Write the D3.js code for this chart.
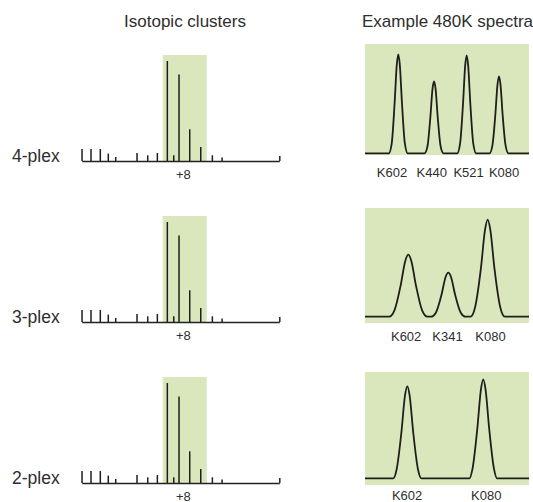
<!DOCTYPE html>
<html>
<head>
<meta charset="utf-8">
<script src="https://d3js.org/d3.v7.min.js"></script>
<style>
  body { margin: 0; background: #fff; }
  svg text { font-family: "Liberation Sans", Arial, Helvetica, sans-serif; fill: #2e2e2e; }
  .axis path, .axis line { stroke: #222; stroke-width: 1.5; }
</style>
</head>
<body>
<script>
// ---- data ----
var plexLabels = ["4-plex", "3-plex", "2-plex"];

// isotopic cluster (same pattern in every row): offset in Da, relative intensity
var clusterMz = [0.04, 1.13, 2.26, 3.23, 4.13, 6.72, 8.02, 9.19, 10.4, 11.18, 11.82, 13.12, 14.46, 15.87, 17.05];
var clusterInt = [12, 12, 12, 7.4, 4, 8, 5.7, 8, 100, 5.7, 86.4, 31.7, 14, 5.7, 3.4];
var heavyWindow = [9.84, 15.19];   // shaded region
var shiftLabelAt = 12.35;          // "+8"

// example 480K spectra: labels, label positions, traced profile points [x, intensity]
var specLabels = [
  ["K602", "K440", "K521", "K080"],
  ["K602", "K341", "K080"],
  ["K602", "K080"]
];
var specLabelX = [
  [16.5, 40.7, 63.2, 84.8],
  [25.1, 50.3, 76.5],
  [25.7, 73.9]
];
var spectrum4 = [[0,0],
  [14.5,0],[16.3,10],[18.05,50],[19.4,89],[20.3,99],[21.2,89],[22.55,50],[24.3,10],[26.1,0],
  [36.3,0],[38.1,7],[39.85,36],[41.2,65],[42.1,72],[43.0,65],[44.35,36],[46.1,7],[47.9,0],
  [56.2,0],[58.0,10],[59.75,49],[61.1,88],[62.0,98],[62.9,88],[64.25,49],[66.0,10],[67.8,0],
  [75.9,0],[77.7,8],[79.45,38],[80.8,69],[81.7,77],[82.6,69],[83.95,38],[85.7,8],[87.5,0],
  [100,0]];
var spectrum3 = [[0,0],
  [14.8,0],[17.9,6],[21.7,31],[24.6,56],[26.4,62],[28.2,56],[31.1,31],[34.9,6],[38.0,0],
  [40.3,0],[43.2,4],[46.65,22],[49.2,40],[50.8,44],[52.4,40],[54.95,22],[58.4,4],[61.3,0],
  [64.3,0],[67.2,10],[70.65,48],[73.2,87],[74.8,97],[76.4,87],[78.95,48],[82.4,10],[85.3,0],
  [100,0]];
var spectrum2 = [[0,0],
  [17.3,0],[19.3,9],[22.2,46],[24.4,83],[25.8,92],[27.2,83],[29.4,46],[32.3,9],[34.3,0],
  [63.6,0],[65.6,10],[68.5,50],[70.7,89],[72.1,99],[73.5,89],[75.7,50],[78.6,10],[80.6,0],
  [100,0]];
var spectra = [spectrum4, spectrum3, spectrum2];

// ---- layout ----
var W = 533, H = 502;
var green = "#dae6bb", ink = "#1e1e1e";

var svg = d3.select("body").append("svg")
  .attr("width", W)
  .attr("height", H);

svg.append("text")
  .attr("x", 185).attr("y", 27)
  .attr("text-anchor", "middle")
  .style("font-size", "17px")
  .text("Isotopic clusters");

svg.append("text")
  .attr("x", 362).attr("y", 27)
  .style("font-size", "17px")
  .text("Example 480K spectra");

var x = d3.scaleLinear().domain([0, 24]).range([81.7, 279.3]);
var sx = d3.scaleLinear().domain([0, 100]).range([365, 529]);

var specBox = [[44, 155], [208, 323], [372, 485]];
var specBase = [153.3, 316.7, 478.3];
var specLabelY = [176.7, 340.7, 500];

plexLabels.forEach(function(name, i) {
  var base = 161 + i * 161;
  var y = d3.scaleLinear().domain([0, 100]).range([base, base - 100]);

  var g = svg.append("g").attr("class", "cluster");

  g.append("rect")
    .attr("x", x(heavyWindow[0]))
    .attr("width", x(heavyWindow[1]) - x(heavyWindow[0]))
    .attr("y", y(106))
    .attr("height", y(0) - y(106))
    .attr("fill", green);

  g.selectAll(".stick")
    .data(clusterMz)
    .enter().append("line")
    .attr("class", "stick")
    .attr("x1", function(d) { return x(d); })
    .attr("x2", function(d) { return x(d); })
    .attr("y1", y(0))
    .attr("y2", function(d, j) { return y(clusterInt[j]); })
    .attr("stroke", ink)
    .attr("stroke-width", 1.5);

  g.append("g")
    .attr("class", "axis")
    .attr("transform", "translate(0," + base + ")")
    .call(d3.axisBottom(x).tickValues([24]).tickSizeInner(-5).tickSizeOuter(0).tickFormat(""));

  g.append("text")
    .attr("x", x(shiftLabelAt))
    .attr("y", base + 17.5)
    .attr("text-anchor", "middle")
    .style("font-size", "13px")
    .text("+8");

  svg.append("text")
    .attr("x", 12).attr("y", base + 0.5)
    .style("font-size", "17.5px")
    .text(name);

  // spectrum panel
  var sy = d3.scaleLinear().domain([0, 100]).range([specBase[i], specBase[i] - 100]);
  var sg = svg.append("g").attr("class", "spectrum");

  sg.append("rect")
    .attr("x", sx(0))
    .attr("width", sx(100) - sx(0))
    .attr("y", specBox[i][0])
    .attr("height", specBox[i][1] - specBox[i][0])
    .attr("fill", green);

  var line = d3.line()
    .x(function(d) { return sx(d[0]); })
    .y(function(d) { return sy(d[1]); })
    .curve(d3.curveMonotoneX);

  sg.append("path")
    .datum(spectra[i])
    .attr("d", line)
    .attr("fill", "none")
    .attr("stroke", ink)
    .attr("stroke-width", 1.8);

  sg.selectAll(".plabel")
    .data(specLabels[i])
    .enter().append("text")
    .attr("class", "plabel")
    .attr("x", function(d, j) { return sx(specLabelX[i][j]); })
    .attr("y", specLabelY[i])
    .attr("text-anchor", "middle")
    .style("font-size", "13px")
    .text(function(d) { return d; });
});
</script>
</body>
</html>
